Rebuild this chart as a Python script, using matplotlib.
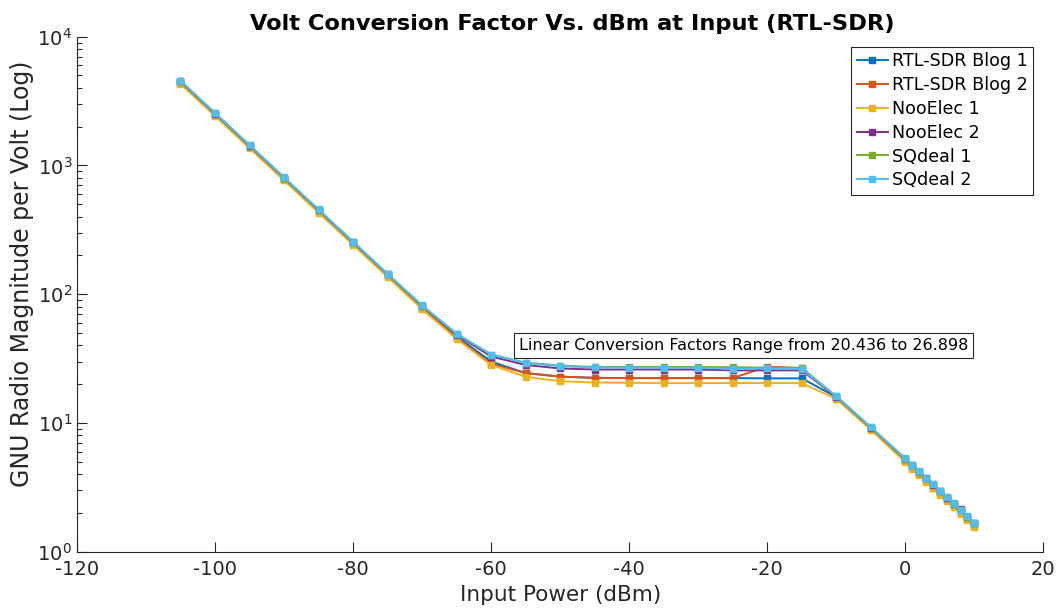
import matplotlib
matplotlib.use("Agg")
import matplotlib.pyplot as plt
from matplotlib.ticker import LogLocator

plt.rcParams['axes.unicode_minus'] = False
plt.rcParams['font.family'] = 'DejaVu Sans'

# input power (dBm)
p_in = [-105, -100, -95, -90, -85, -80, -75, -70, -65, -60, -55, -50, -45, -40,
        -35, -30, -25, -20, -15, -10, -5, 0, 1, 2, 3, 4, 5, 6, 7, 8, 9, 10]

# GNU radio magnitude per volt
blog1 = [4450, 2500, 1410, 792, 445, 250, 141, 80, 47, 30.0, 24.4, 22.9, 22.4, 22.3,
         22.3, 22.3, 22.3, 22.2, 22.2, 15.9, 9.15, 5.2, 4.64, 4.13, 3.69, 3.29, 2.93,
         2.61, 2.33, 2.08, 1.85, 1.65]
blog2 = [4400, 2475, 1390, 783, 440, 247, 139, 78.5, 46, 28.8, 24.4, 22.9, 22.4, 22.3,
         22.3, 22.3, 22.3, 27.4, 26.7, 15.7, 9.0, 5.1, 4.55, 4.05, 3.62, 3.1, 2.88,
         2.57, 2.29, 2.04, 1.82, 1.62]
nooelec1 = [4300, 2420, 1360, 765, 430, 242, 136, 76.5, 45, 28.2, 22.8, 21.1, 20.6, 20.5,
            20.4, 20.4, 20.4, 20.4, 20.4, 15.4, 8.85, 4.95, 4.42, 3.93, 3.5, 3.12, 2.78,
            2.48, 2.21, 1.97, 1.76, 1.56]
nooelec2 = [4500, 2530, 1425, 800, 450, 253, 142.5, 81, 48.5, 32.8, 28.2, 26.5, 26.0, 26.0,
            26.0, 26.0, 25.6, 25.6, 25.6, 16.0, 9.2, 5.25, 4.68, 4.16, 3.72, 3.31, 2.95,
            2.63, 2.34, 2.13, 1.86, 1.66]
sqdeal1 = [4530, 2550, 1435, 806, 453, 255, 143.5, 81.5, 49, 34, 29.4, 27.9, 27.2, 27.2,
           27.2, 27.2, 27.1, 26.9, 26.7, 16.1, 9.25, 5.27, 4.7, 4.18, 3.74, 3.33, 2.96,
           2.64, 2.35, 2.1, 1.87, 1.67]
sqdeal2 = [4550, 2560, 1440, 810, 455, 256, 144, 82, 49.5, 34, 29.2, 27.6, 27.0, 26.9,
           26.9, 26.8, 26.3, 26.5, 26.2, 16.2, 9.3, 5.3, 4.72, 4.2, 3.76, 3.35, 2.98,
           2.66, 2.37, 2.11, 1.88, 1.68]

labels = ['RTL-SDR Blog 1', 'RTL-SDR Blog 2', 'NooElec 1', 'NooElec 2', 'SQdeal 1', 'SQdeal 2']
colors = ['#0072BD', '#D95319', '#EDB120', '#7E2F8E', '#77AC30', '#4DBEEE']
series = [blog1, blog2, nooelec1, nooelec2, sqdeal1, sqdeal2]

fig = plt.figure(figsize=(10.6, 6.09), dpi=100)
ax = fig.add_axes([0.0726, 0.0941, 0.9117, 0.8456])

for y, lab, c in zip(series, labels, colors):
    ax.semilogy(p_in, y, '-s', color=c, label=lab, lw=1.4, ms=4.5, mec=c, mfc=c)

ax.set_xlim(-120, 20)
ax.set_ylim(1, 1e4)
ax.set_xticks(range(-120, 21, 20))
ax.yaxis.set_major_locator(LogLocator(base=10, numticks=10))
ax.yaxis.set_minor_locator(LogLocator(base=10, subs=range(2, 10), numticks=10))

for side in ['top', 'right']:
    ax.spines[side].set_visible(False)
for side in ['left', 'bottom']:
    ax.spines[side].set_color('#262626')
    ax.spines[side].set_linewidth(0.8)
ax.tick_params(which='major', direction='in', length=7, width=0.8, colors='#262626',
               labelsize=14)
ax.tick_params(axis='x', which='major', pad=6)
ax.tick_params(which='minor', direction='in', length=3.5, width=0.8, colors='#262626')

ax.set_xlabel('Input Power (dBm)', fontsize=15.5, color='#262626', labelpad=4)
ax.set_ylabel('GNU Radio Magnitude per Volt (Log)', fontsize=17, color='#262626')
ax.yaxis.set_label_coords(-0.0445, 0.54)
ax.set_title('Volt Conversion Factor Vs. dBm at Input (RTL-SDR)', fontsize=16.2,
             fontweight='bold', pad=5, x=0.512)

leg = ax.legend(loc='upper right', fontsize=12.6, fancybox=False, framealpha=1,
                edgecolor='#262626', handlelength=1.8, handletextpad=0.2,
                labelspacing=0.33, borderpad=0.3, borderaxespad=0.6)
leg.get_frame().set_linewidth(0.8)

ax.text(0.4577, 0.4008, 'Linear Conversion Factors Range from 20.436 to 26.898',
        transform=ax.transAxes, fontsize=11.5, va='center', ha='left',
        bbox=dict(boxstyle='square,pad=0.3', fc='white', ec='#262626', lw=0.8))

fig.savefig('out.png', dpi=100)
